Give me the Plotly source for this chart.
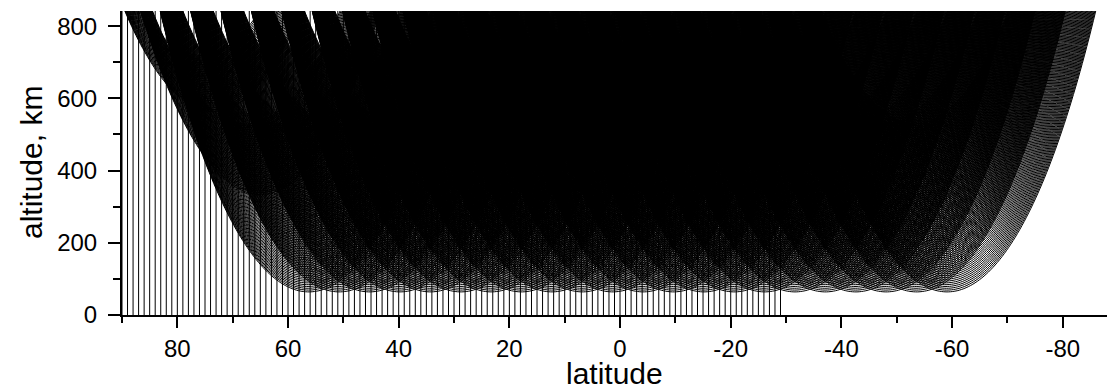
import numpy as np
import plotly.graph_objects as go

# Earth radius, receiver altitude and top of the altitude axis (km)
EARTH_R = 6371.0
SAT_ALT = 1730.0
TOP_ALT = 842.0

# sub-satellite latitude of each occultation scan (deg)
scan_lat = [104.65, 99.15, 93.65, 88.16, 82.67, 77.18, 71.68, 66.19, 60.70, 55.21,
            49.72, 44.22, 38.73, 33.24, 27.75, 22.25, 16.76, 11.27, 5.78, 0.29,
            -5.21, -10.70, -16.19, -21.70]
# tangent-altitude span covered by each scan (km)
scan_min_tangent = [560, 330] + [64] * 22
scan_max_tangent = [720, 530] + [530] * 22

# tangent-altitude grid of the rays within a scan (km)
tangent_alt = list(range(64, 721, 5))

# nadir columns (deg latitude)
nadir_lat = list(range(90, -30, -1))

x_ticks = [80, 60, 40, 20, 0, -20, -40, -60, -80]
y_ticks = [0, 200, 400, 600, 800]


def ray_path(sat_lat, h_t):
    """Latitude/altitude along a straight ray with tangent altitude h_t."""
    r_t = EARTH_R + h_t
    th_sat = np.degrees(np.arccos(r_t / (EARTH_R + SAT_ALT)))
    th_top = np.degrees(np.arccos(r_t / (EARTH_R + TOP_ALT)))
    n = max(10, int(2 * th_top / 0.4))
    d = np.linspace(-th_top, th_top, n)
    lat = sat_lat - th_sat - d
    alt = r_t / np.cos(np.radians(d)) - EARTH_R
    return lat, alt


rx, ry = [], []
for s, h_lo, h_hi in zip(scan_lat, scan_min_tangent, scan_max_tangent):
    for h in tangent_alt:
        if h < h_lo or h > h_hi:
            continue
        la, al = ray_path(s, h)
        rx.extend(np.round(la, 3).tolist())
        ry.extend(np.round(al, 1).tolist())
        rx.append(None)
        ry.append(None)

vx, vy = [], []
for v in nadir_lat:
    vx += [v, v, None]
    vy += [0, TOP_ALT, None]

fig = go.Figure()
fig.add_trace(go.Scatter(x=vx, y=vy, mode="lines",
                         line=dict(color="black", width=1),
                         hoverinfo="skip", showlegend=False))
fig.add_trace(go.Scatter(x=rx, y=ry, mode="lines",
                         line=dict(color="black", width=1, simplify=False),
                         hoverinfo="skip", showlegend=False))

FONT = "Liberation Sans, Arial, sans-serif"
tick_font = dict(family=FONT, size=24, color="black")
title_font = dict(family=FONT, size=30, color="black")

fig.update_layout(
    width=1107, height=391,
    margin=dict(l=122, r=0, t=11, b=76),
    paper_bgcolor="white", plot_bgcolor="white",
    font=tick_font,
    xaxis=dict(range=[90, -88], showgrid=False, zeroline=False,
               showline=True, linecolor="black", linewidth=2,
               ticks="outside", ticklen=11, tickwidth=2, tickcolor="black",
               tickvals=x_ticks, ticktext=[str(t) for t in x_ticks],
               tickfont=tick_font, ticklabelstandoff=0,
               minor=dict(dtick=10, tick0=0, ticks="outside", ticklen=6,
                          tickwidth=2, tickcolor="black")),
    yaxis=dict(range=[0, TOP_ALT], showgrid=False, zeroline=False,
               showline=True, linecolor="black", linewidth=2,
               ticks="outside", ticklen=12, tickwidth=2, tickcolor="black",
               tickvals=y_ticks, ticktext=[str(t) for t in y_ticks],
               tickfont=tick_font, ticklabelstandoff=6,
               minor=dict(dtick=100, tick0=0, ticks="outside", ticklen=7,
                          tickwidth=2, tickcolor="black")),
    annotations=[
        dict(text="latitude", xref="paper", yref="paper", x=0.5, y=0,
             yshift=-77, xanchor="center", yanchor="bottom", showarrow=False,
             font=title_font),
        dict(text="altitude, km", xref="paper", yref="paper", x=0, y=0.5,
             xshift=-91, xanchor="center", yanchor="middle", showarrow=False,
             textangle=-90, font=title_font),
    ],
)

fig.write_html("out.html")
